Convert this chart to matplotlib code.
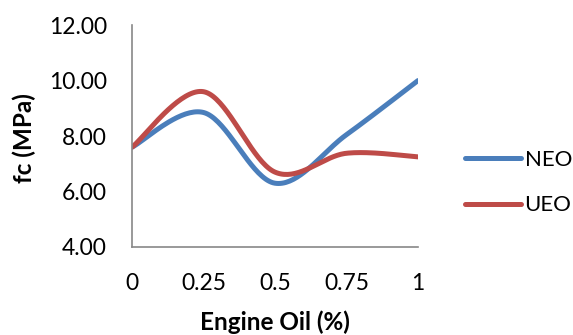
import numpy as np
import matplotlib
matplotlib.use('Agg')
from matplotlib import pyplot as plt

oil = [0, 0.25, 0.5, 0.75, 1]
neo = [7.60, 8.85, 6.30, 8.05, 10.00]
ueo = [7.60, 9.60, 6.70, 7.38, 7.25]

x_ticks = [0, 0.25, 0.5, 0.75, 1]
x_tick_labels = ['0', '0.25', '0.5', '0.75', '1']
y_ticks = [4, 6, 8, 10, 12]


def smooth(xs, ys, n=40):
    # bezier smoothing through the points, like a spreadsheet "smoothed line"
    xs = np.asarray(xs, float)
    ys = np.asarray(ys, float)
    px = np.concatenate([[xs[0]], xs, [xs[-1]]])
    py = np.concatenate([[ys[0]], ys, [ys[-1]]])
    out_x, out_y = [], []
    t = np.linspace(0, 1, n)
    for i in range(1, len(px) - 2):
        p0 = np.array([px[i], py[i]])
        p3 = np.array([px[i + 1], py[i + 1]])
        c1 = p0 + (np.array([px[i + 1], py[i + 1]]) - np.array([px[i - 1], py[i - 1]])) / 6
        c2 = p3 - (np.array([px[i + 2], py[i + 2]]) - np.array([px[i], py[i]])) / 6
        bx = ((1 - t) ** 3 * p0[0] + 3 * (1 - t) ** 2 * t * c1[0]
              + 3 * (1 - t) * t ** 2 * c2[0] + t ** 3 * p3[0])
        by = ((1 - t) ** 3 * p0[1] + 3 * (1 - t) ** 2 * t * c1[1]
              + 3 * (1 - t) * t ** 2 * c2[1] + t ** 3 * p3[1])
        out_x.extend(bx)
        out_y.extend(by)
    return out_x, out_y


plt.rcParams['font.family'] = ['Lato', 'DejaVu Sans']

fig = plt.figure(figsize=(5.73, 3.35), dpi=100)
ax = fig.add_axes([0.2304, 0.2627, 0.499, 0.6623])

sx, sy = smooth(oil, neo)
ax.plot(sx, sy, color='#4A7EBB', linewidth=3.6, solid_capstyle='round', label='NEO')
sx, sy = smooth(oil, ueo)
ax.plot(sx, sy, color='#BE4B48', linewidth=3.6, solid_capstyle='round', label='UEO')

ax.set_xlim(0, 1)
ax.set_ylim(4, 12)
ax.set_xticks(x_ticks)
ax.set_xticklabels(x_tick_labels)
ax.set_yticks(y_ticks)
ax.set_yticklabels(['%.2f' % v for v in y_ticks])
ax.tick_params(length=0, labelsize=16.5)
ax.tick_params(axis='x', pad=19)
ax.tick_params(axis='y', pad=18)

for side in ['top', 'right']:
    ax.spines[side].set_visible(False)
for side in ['left', 'bottom']:
    ax.spines[side].set_color('#888888')
    ax.spines[side].set_linewidth(1.2)

fig.text(275 / 573, 1 - 322 / 335, 'Engine Oil (%)', fontsize=17.5,
         fontweight='bold', ha='center', va='center')
fig.text(24 / 573, 1 - 138 / 335, 'fc (MPa)', fontsize=17.5,
         fontweight='bold', ha='center', va='center', rotation=90)

ax.legend(loc='center left', bbox_to_anchor=(465 / 573, 1 - 182.5 / 335),
          bbox_transform=fig.transFigure, frameon=False, borderpad=0,
          borderaxespad=0, fontsize=16, handlelength=2.5,
          handletextpad=0.18, labelspacing=1.15)

fig.savefig('out.png', dpi=100)
